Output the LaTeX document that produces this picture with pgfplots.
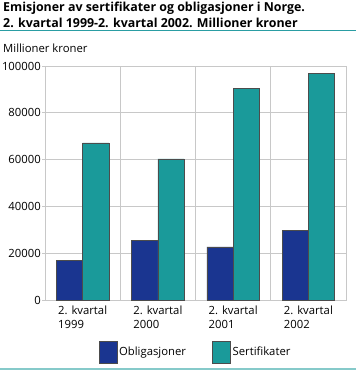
\documentclass[border=0pt]{standalone}
\usepackage{fontspec}
\setmainfont{Open Sans}
\usepackage{pgfplots}
\pgfplotsset{compat=1.18}
\definecolor{obl}{HTML}{1A3590}
\definecolor{sert}{HTML}{1A9A9A}
\definecolor{titlerule}{HTML}{2A9DA3}
\definecolor{botrule}{HTML}{86CACA}
\definecolor{gridc}{HTML}{C8C8C8}
\begin{document}
\begin{tikzpicture}[x=1pt,y=1pt]
\path[use as bounding box] (0,0) rectangle (356,-371);
\node[anchor=north west, align=left, font=\bfseries\fontsize{12.4}{15.5}\selectfont, inner sep=0pt] at (3,-2) {Emisjoner av sertifikater og obligasjoner i Norge.\\2. kvartal 1999-2. kvartal 2002. Millioner kroner};
\draw[titlerule, line width=1.3pt] (0,-30.5) -- (356,-30.5);
\node[anchor=west, inner sep=0pt, font=\fontsize{11.3}{13}\selectfont] at (3,-48) {Millioner kroner};
\draw[botrule, line width=2pt] (0,-369) -- (356,-369);
\begin{axis}[
  at={(45pt,-300pt)}, anchor=south west,
  scale only axis, width=301pt, height=234pt,
  xmin=-0.5, xmax=3.5, ymin=0, ymax=100000,
  axis line style={gridc},
  xtick={0,1,2,3},
  xticklabels={{2. kvartal\\1999},{2. kvartal\\2000},{2. kvartal\\2001},{2. kvartal\\2002}},
  x tick label style={align=left, font=\fontsize{11.3}{14}\selectfont, inner sep=1pt, yshift=-2pt},
  major x tick style={draw=none},
  minor xtick={0.5,1.5,2.5},
  minor x grid style={gridc, line width=0.8pt},
  xminorgrids=true,
  minor x tick style={draw=none},
  scaled y ticks=false,
  ytick={0,20000,40000,60000,80000,100000},
  yticklabels={0,20000,40000,60000,80000,100000},
  ymajorgrids=true,
  major grid style={gridc, line width=0.8pt},
  y tick label style={font=\fontsize{11.3}{13}\selectfont, inner sep=1pt},
  ytick pos=left, tick align=outside, major tick length=3pt,
  y tick style={gridc, line width=0.8pt},
  legend style={draw=none, at={(0.5,-0.222)}, anchor=center, font=\fontsize{11.3}{13}\selectfont},
  legend columns=2,
  legend cell align=left,
  /tikz/every even column/.append style={column sep=24pt},
  legend image code/.code={\draw[#1] (0pt,-11pt) rectangle (18pt,11pt);},
]
\addplot[ybar, bar width=26.3pt, bar shift=-13.15pt, fill=obl, draw=black!70, line width=0.6pt] coordinates {(0,16800) (1,25600) (2,22700) (3,29900)};
\addlegendentry{Obligasjoner}
\addplot[ybar, bar width=26.3pt, bar shift=13.15pt, fill=sert, draw=black!70, line width=0.6pt] coordinates {(0,67100) (1,60300) (2,90400) (3,96900)};
\addlegendentry{Sertifikater}
\end{axis}
\end{tikzpicture}
\end{document}
